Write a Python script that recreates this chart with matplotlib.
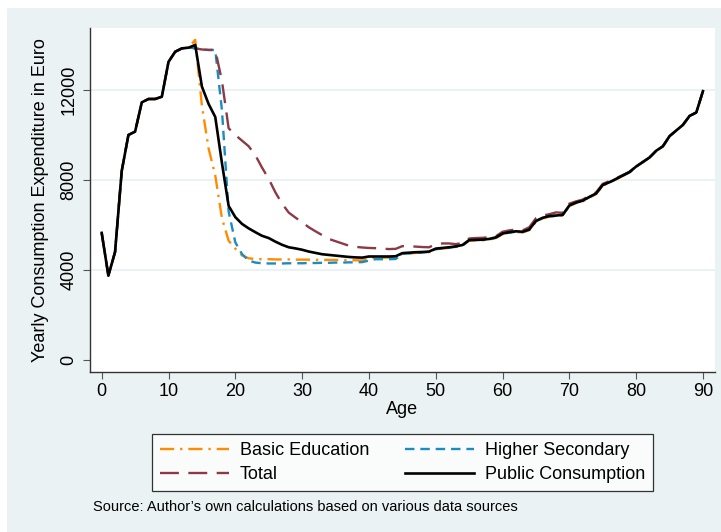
import matplotlib
matplotlib.use('Agg')
import matplotlib.pyplot as plt
import matplotlib.patches as mpatches
import numpy as np

plt.rcParams['font.family'] = ['Liberation Sans', 'DejaVu Sans']

ages = list(range(0, 91))

# public consumption (black)
public = [5650, 3750, 4800, 8400, 10000, 10150, 11450, 11600, 11600, 11700,
          13250, 13700, 13850, 13880, 14000, 12150, 11380, 10800, 8750, 6850,
          6350, 6050, 5850, 5680, 5520, 5420, 5260, 5120, 5010, 4960,
          4900, 4820, 4760, 4700, 4670, 4640, 4610, 4580, 4560, 4550,
          4600, 4600, 4600, 4600, 4610, 4750, 4770, 4790, 4800, 4820,
          4950, 4980, 5010, 5050, 5110, 5330, 5340, 5350, 5380, 5450,
          5620, 5680, 5720, 5700, 5800, 6180, 6320, 6400, 6420, 6450,
          6870, 7000, 7080, 7250, 7400, 7780, 7900, 8050, 8200, 8350,
          8600, 8800, 9000, 9300, 9500, 9950, 10200, 10450, 10850, 11000,
          11950]

total = [5650, 3750, 4800, 8400, 10000, 10150, 11450, 11600, 11600, 11700,
         13250, 13700, 13850, 13880, 13850, 13800, 13780, 13780, 12400, 10300,
         10000, 9750, 9500, 9100, 8550, 8050, 7450, 6950, 6550, 6330,
         6120, 5900, 5720, 5550, 5380, 5280, 5180, 5080, 5030, 5000,
         4980, 4970, 4950, 4930, 4940, 5060, 5050, 5040, 5020, 5010,
         5150, 5180, 5180, 5150, 5200, 5400, 5420, 5430, 5460, 5500,
         5700, 5760, 5800, 5760, 5900, 6300, 6420, 6480, 6560, 6540,
         6950, 7050, 7130, 7300, 7450, 7830, 7950, 8080, 8220, 8370,
         8600, 8800, 9000, 9300, 9500, 9950, 10200, 10450, 10850, 11000,
         11950]

basic = [5650, 3750, 4800, 8400, 10000, 10150, 11450, 11600, 11600, 11700,
         13250, 13700, 13850, 13880, 14230, 11300, 9400, 8200, 6300, 5300,
         4950, 4650, 4520, 4490, 4480, 4480, 4470, 4470, 4470, 4460,
         4460, 4460, 4450, 4450, 4450, 4450, 4440, 4440, 4430, 4430,
         4500, 4550, 4550, 4550, 4560, 4720, 4740, 4760, 4770, 4790,
         4920, 4950, 4980, 5020, 5080, 5300, 5310, 5320, 5350, 5420,
         5590, 5650, 5690, 5670, 5770, 6150, 6290, 6370, 6390, 6420,
         6840, 6970, 7050, 7220, 7370, 7750, 7880, 8030, 8180, 8330,
         8590, 8790, 8990, 9290, 9490, 9940, 10190, 10440, 10840, 10990,
         11940]

higher = [5650, 3750, 4800, 8400, 10000, 10150, 11450, 11600, 11600, 11700,
          13250, 13700, 13850, 13880, 13850, 13800, 13780, 13780, 11100, 6600,
          5230, 4710, 4420, 4330, 4300, 4290, 4290, 4290, 4300, 4300,
          4300, 4310, 4310, 4320, 4320, 4330, 4330, 4340, 4340, 4350,
          4420, 4480, 4480, 4480, 4490, 4720, 4740, 4760, 4780, 4800,
          4930, 4960, 4990, 5030, 5090, 5320, 5330, 5340, 5370, 5440,
          5600, 5660, 5700, 5690, 5790, 6170, 6310, 6390, 6410, 6440,
          6860, 6990, 7070, 7240, 7390, 7770, 7890, 8040, 8190, 8340,
          8600, 8800, 9000, 9300, 9500, 9950, 10200, 10450, 10850, 11000,
          11950]

bg = '#EAF2F3'
fs = 13
fig = plt.figure(figsize=(7.21, 5.32), dpi=100)
fig.patch.set_facecolor('white')
fig.patches.append(mpatches.Rectangle((7 / 721, 0), 1, (532 - 8) / 532,
                                      transform=fig.transFigure, facecolor=bg,
                                      edgecolor='none', zorder=-10))

ax = fig.add_axes([90 / 721, (532 - 372) / 532, (715 - 90) / 721, (372 - 28) / 532])
ax.set_facecolor('white')

l1, = ax.plot(ages, basic, color='#FF8C00', lw=1.7, linestyle=(0, (6, 2.5, 1, 2.5)))
l2, = ax.plot(ages, higher, color='#1A8CC0', lw=1.7, linestyle=(0, (4, 2.5)))
l3, = ax.plot(ages, total, color='#8B3A46', lw=1.7, linestyle=(0, (8, 4)))
l4, = ax.plot(ages, public, color='black', lw=1.9)

ax.set_xlim(-1.75, 91.8)
ax.set_ylim(-533, 14755)
ax.set_xticks(range(0, 91, 10))
ax.set_yticks([0, 4000, 8000, 12000])
for yv in [4000, 8000, 12000]:
    ax.axhline(yv, color=bg, lw=1.5, zorder=0)

for s in ['top', 'right']:
    ax.spines[s].set_visible(False)
for s in ['left', 'bottom']:
    ax.spines[s].set_color('#333333')
    ax.spines[s].set_linewidth(1.0)
ax.tick_params(axis='both', direction='out', length=5, color='#555555',
               labelsize=fs, labelcolor='black')
ax.tick_params(axis='x', pad=3)
ax.tick_params(axis='y', pad=4)
plt.setp(ax.get_yticklabels(), rotation=90, va='center')

ax.set_xlabel('Age', fontsize=fs, labelpad=1)
ax.set_ylabel('Yearly Consumption Expenditure in Euro', fontsize=fs, labelpad=8)

leg = fig.legend([l1, l3, l2, l4],
                 ['Basic Education', 'Total', 'Higher Secondary', 'Public Consumption'],
                 ncol=2, loc='center', bbox_to_anchor=(402.5 / 721, (532 - 462.5) / 532),
                 frameon=True, fancybox=False, edgecolor='black', fontsize=fs,
                 handlelength=3.8, columnspacing=2.0, handletextpad=0.6,
                 borderpad=0.45, labelspacing=0.4, borderaxespad=0)
leg.get_frame().set_linewidth(0.9)

fig.text(93 / 721, (532 - 507) / 532,
         "Source: Author\u2019s own calculations based on various data sources",
         fontsize=10.5, va='center', ha='left')

fig.savefig('out.png', dpi=100, facecolor=fig.get_facecolor())
